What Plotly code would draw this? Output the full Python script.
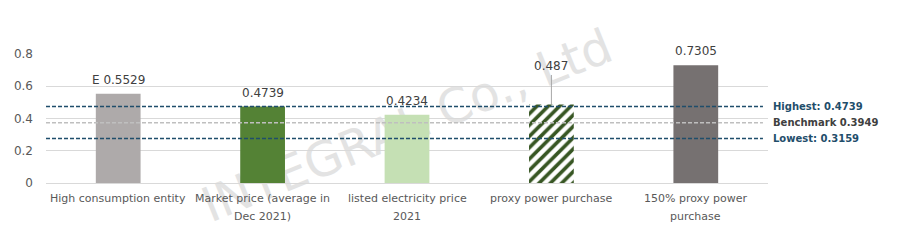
import plotly.graph_objects as go

categories = ["High consumption entity", "Market price (average in Dec 2021)",
              "listed electricity price 2021", "proxy power purchase",
              "150% proxy power purchase"]
category_lines = [["High consumption entity"], ["Market price (average in", "Dec 2021)"],
                  ["listed electricity price", "2021"], ["proxy power purchase"],
                  ["150% proxy power", "purchase"]]
values = [0.5529, 0.4739, 0.4234, 0.487, 0.7305]
value_labels = ["E 0.5529", "0.4739", "0.4234", "0.487", "0.7305"]
bar_colors = ["#AEAAAA", "#548235", "#C5E0B4", "#FFFFFF", "#767171"]
hatched = [False, False, False, True, False]

ref_names = ["Highest: 0.4739", "Benchmark 0.3949", "Lowest: 0.3159"]
ref_positions = [0.4739, 0.373, 0.276]
ref_line_colors = ["#1F4E6B", "#BFBFBF", "#1F4E6B"]
ref_text_colors = ["#1F4E6B", "#404040", "#1F4E6B"]

y_ticks = [0, 0.2, 0.4, 0.6, 0.8]
y_tick_text = ["0", "0.2", "0.4", "0.6", "0.8"]

watermark = "INTEGRAL Co., Ltd"

FONT = "DejaVu Sans"

fig = go.Figure()

# watermark behind bars (shape label on a below-layer invisible line)
wx, wy = 0.498, 0.47
fig.add_shape(type="line", xref="paper", yref="paper", layer="below",
              x0=wx - 0.05, x1=wx + 0.05, y0=wy, y1=wy,
              line=dict(color="rgba(0,0,0,0)", width=1),
              label=dict(text=watermark, textangle=-22, textposition="middle",
                         xanchor="center", yanchor="middle",
                         font=dict(family=FONT, size=48, color="#E3E3E3")))

plain_vals = [None if h else v for v, h in zip(values, hatched)]
hatch_vals = [v if h else None for v, h in zip(values, hatched)]

fig.add_trace(go.Bar(
    x=categories, y=plain_vals,
    marker=dict(color=bar_colors, line=dict(width=0)),
    width=0.31, hoverinfo="skip",
))
fig.add_trace(go.Bar(
    x=categories, y=hatch_vals,
    marker=dict(color="#FFFFFF", line=dict(width=0),
                pattern=dict(shape="/", fgcolor="#375623", bgcolor="#FFFFFF",
                             fgopacity=1, fillmode="overlay", size=8, solidity=0.45)),
    width=0.31, hoverinfo="skip",
))

for i, (c, v, t) in enumerate(zip(categories, values, value_labels)):
    if hatched[i]:
        fig.add_annotation(x=c, y=v, text=t, showarrow=True, arrowhead=0,
                           arrowcolor="#A6A6A6", arrowwidth=1, ax=0, ay=-38,
                           standoff=0, startstandoff=0,
                           font=dict(family=FONT, size=12, color="#404040"))
    else:
        fig.add_annotation(x=c, y=v, text=t, showarrow=False, yshift=14,
                           font=dict(family=FONT, size=12, color="#404040"))

for c, lines in zip(categories, category_lines):
    for j, line in enumerate(lines):
        fig.add_annotation(x=c, y=0, text=line, showarrow=False, yanchor="middle",
                           yshift=-15 - 18.5 * j,
                           font=dict(family=FONT, size=11, color="#595959"))

for name, pos, lc, tc in zip(ref_names, ref_positions, ref_line_colors, ref_text_colors):
    fig.add_shape(type="line", xref="paper", yref="y", x0=0, x1=0.993, y0=pos, y1=pos,
                  line=dict(color=lc, width=1.5, dash="4px,2px"))
    fig.add_annotation(xref="paper", yref="y", x=1, y=pos, xanchor="left", xshift=3,
                       text="<b>" + name + "</b>", showarrow=False,
                       font=dict(family=FONT, size=10, color=tc))

fig.update_layout(
    width=904, height=250,
    margin=dict(l=46, r=136, t=54, b=67),
    plot_bgcolor="white", paper_bgcolor="white",
    showlegend=False, barmode="overlay",
    font=dict(family=FONT, size=11, color="#595959"),
)
fig.update_xaxes(showline=True, linecolor="#D9D9D9", linewidth=1, ticks="",
                 showticklabels=False)
fig.update_yaxes(range=[0, 0.8], tickvals=y_ticks, ticktext=y_tick_text,
                 showgrid=True, gridcolor="#D9D9D9", gridwidth=1, zeroline=False,
                 ticks="", ticklabelstandoff=12,
                 tickfont=dict(family=FONT, size=12, color="#595959"))

fig.write_html("out.html")
